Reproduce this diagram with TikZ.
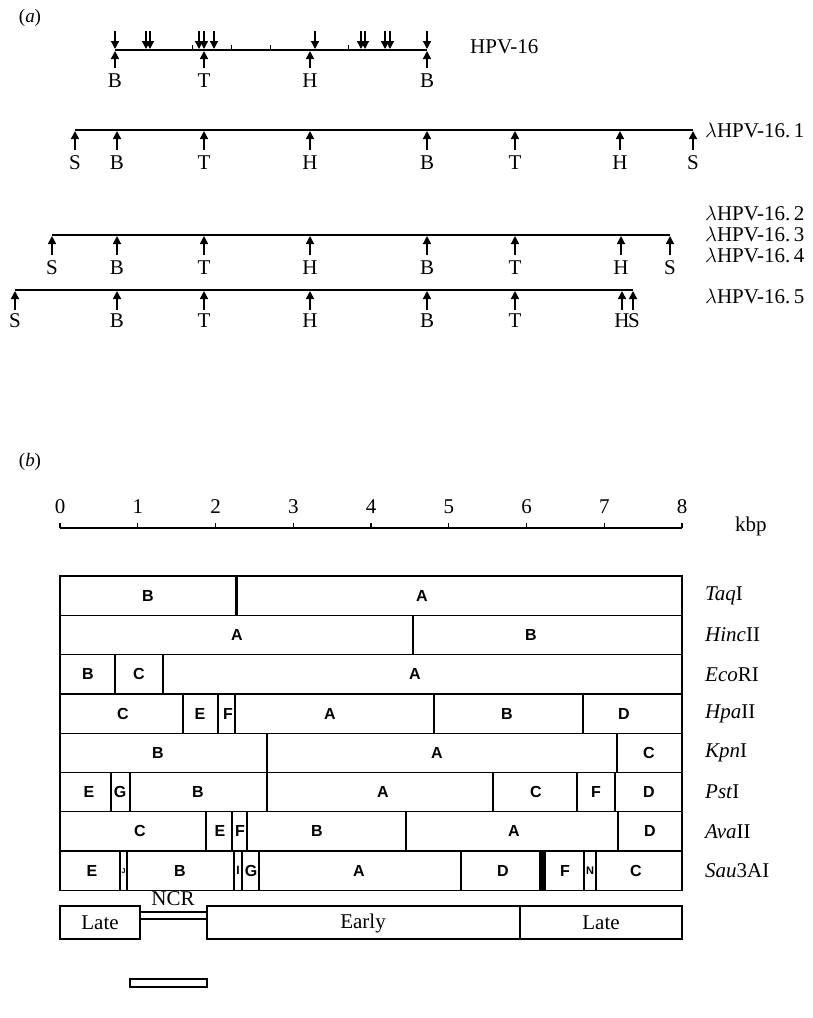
\documentclass[tikz,border=0pt]{standalone}
\usepackage{fontspec}
\setmainfont{Liberation Serif}
\newfontfamily\boxfont{Liberation Sans}
\usetikzlibrary{arrows.meta}
\begin{document}
\begin{tikzpicture}[x=1pt,y=-1pt,
 every node/.style={inner sep=0pt},
 lab/.style={font=\fontsize{21}{21}\selectfont},
 upar/.style={-{Triangle[length=8pt,width=8pt]}, line width=1.6pt},
 dnar/.style={-{Triangle[length=8pt,width=8pt]}, line width=1.4pt},
 dna/.style={line width=2pt},
 frag/.style={draw, line width=1.3pt},
 fl/.style={font=\boxfont\bfseries\fontsize{16}{16}\selectfont},
 enz/.style={anchor=west, font=\fontsize{21}{21}\selectfont},
]
\useasboundingbox (0,0) rectangle (813,1018);
\fill[white] (0,0) rectangle (813,1018);

% ---------- (a) ----------
\node[lab, font=\itshape\fontsize{19}{19}\selectfont] (pa) at (30,18) {\textup{(}a\textup{)}};

% HPV-16 genome
\coordinate (g0) at (115,50); \coordinate (g1) at (427,50);
\draw[dna] (g0) -- (g1);
\foreach \x [count=\i] in {115,146,150,199,204,214,315,361,365,385,390,427} {
  \coordinate (dt\i) at (\x,31); \coordinate (dh\i) at (\x,49);
  \draw[dnar] (dt\i) -- (dh\i);
}
\foreach \x [count=\i] in {192,231,270,348} {
  \coordinate (tk\i) at (\x,50); \coordinate (tu\i) at (\x,45);
  \draw[line width=1pt] (tk\i) -- (tu\i);
}
\foreach \x/\l [count=\i] in {115/B,204/T,310/H,427/B} {
  \coordinate (ut\i) at (\x,68); \coordinate (uh\i) at (\x,51);
  \draw[upar] (ut\i) -- (uh\i);
  \node[lab] (gl\i) at (\x,81) {\l};
}
\node[lab, anchor=west] (hpv) at (470,47) {HPV-16};

% lambda HPV-16.1
\coordinate (r1a) at (75,130); \coordinate (r1b) at (693,130);
\draw[dna] (r1a) -- (r1b);
\foreach \x/\l [count=\i] in {75/S,117/B,204/T,310/H,427/B,515/T,620/H,693/S} {
  \coordinate (p1t\i) at (\x,150); \coordinate (p1h\i) at (\x,131);
  \draw[upar] (p1t\i) -- (p1h\i);
  \node[lab] (l1\i) at (\x,163) {\l};
}
\node[enz] (n1) at (705,130) {$\lambda$HPV-16.\,1};

% lambda HPV-16.2-4
\coordinate (r2a) at (52,235); \coordinate (r2b) at (670,235);
\draw[dna] (r2a) -- (r2b);
\foreach \x/\l [count=\i] in {52/S,117/B,204/T,310/H,427/B,515/T,621/H,670/S} {
  \coordinate (p2t\i) at (\x,255); \coordinate (p2h\i) at (\x,236);
  \draw[upar] (p2t\i) -- (p2h\i);
  \node[lab] (l2\i) at (\x,268) {\l};
}
\node[enz] (n2) at (705,213) {$\lambda$HPV-16.\,2};
\node[enz] (n3) at (705,234) {$\lambda$HPV-16.\,3};
\node[enz] (n4) at (705,255) {$\lambda$HPV-16.\,4};

% lambda HPV-16.5
\coordinate (r3a) at (15,290); \coordinate (r3b) at (633,290);
\draw[dna] (r3a) -- (r3b);
\foreach \x/\l [count=\i] in {15/S,117/B,204/T,310/H,427/B,515/T,622/H,633/S} {
  \coordinate (p3t\i) at (\x,310); \coordinate (p3h\i) at (\x,291);
  \draw[upar] (p3t\i) -- (p3h\i);
}
\foreach \x/\l [count=\i] in {15/S,117/B,204/T,310/H,427/B,515/T,622/H,634/S} {
  \node[lab] (l3\i) at (\x,321) {\l};
}
\node[enz] (n5) at (705,296) {$\lambda$HPV-16.\,5};

% ---------- (b) ----------
\node[lab, font=\itshape\fontsize{19}{19}\selectfont] (pb) at (30,462) {\textup{(}b\textup{)}};

% scale
\coordinate (s0) at (60,528); \coordinate (s8) at (682,528);
\draw[line width=1.4pt] (s0) -- (s8);
\foreach \k in {0,...,8} {
  \coordinate (sk\k) at ({60+77.75*\k},528);
  \draw[line width=1.2pt] (sk\k) -- ++(0,-5);
  \node[lab] (sn\k) at ({60+77.75*\k},507) {\k};
}
\node[lab, anchor=west] (kbp) at (735,526) {kbp};

% restriction map rows
\def\rowh{39.3}
\newcommand{\maprow}[3]{%
  \pgfmathsetmacro{\yt}{576+\rowh*#1}
  \pgfmathsetmacro{\yb}{\yt+\rowh}
  \pgfmathsetmacro{\ym}{\yt+\rowh/2}
  \foreach \a/\b/\lx/\l [count=\j] in {#2} {
    \draw[frag] (\a,\yt) rectangle (\b,\yb);
    \node[fl] (f#1-\j) at (\lx,\ym) {\l};
  }
  \node[enz] (e#1) at (705,\ym) {#3};
}
\maprow{0}{60/236/148/B,236/682/422/A}{\textit{Taq}I}
\maprow{1}{60/413/237/A,413/682/531/B}{\textit{Hinc}II}
\maprow{2}{60/115/88/B,115/163/139/C,163/682/415/A}{\textit{Eco}RI}
\maprow{3}{60/183/123/C,183/218/200/E,218/235/228/F,235/434/330/A,434/583/507/B,583/682/624/D}{\textit{Hpa}II}
\maprow{4}{60/267/158/B,267/617/437/A,617/682/649/C}{\textit{Kpn}I}
\maprow{5}{60/111/89/E,111/130/120/G,130/267/198/B,267/493/383/A,493/577/536/C,577/615/596/F,615/682/649/D}{\textit{Pst}I}
\maprow{6}{60/206/140/C,206/232/220/E,232/247/240/F,247/406/317/B,406/618/514/A,618/682/650/D}{\textit{Ava}II}
\maprow{7}{60/120/92/E,120/127/123.5/{\fontsize{7}{7}\selectfont J},127/234/180/B,234/242/238/{\fontsize{12}{12}\selectfont I},242/259/251/G,259/461/359/A,461/540/503/D,540/545/542.5/{},545/584/565/F,584/596/590/{\fontsize{11}{11}\selectfont N},596/682/636/C}{\textit{Sau}3AI}
\draw[line width=3pt] (236,576) -- (236,615.3);
\fill (540,{576+\rowh*7}) rectangle (545,{576+\rowh*8});

% genome organisation
\draw[frag] (60,906) rectangle (140,939);
\node[lab] (late1) at (100,923) {Late};
\draw[frag] (140,912) rectangle (207,919);
\node[lab] (ncr) at (173,899) {NCR};
\draw[frag] (207,906) rectangle (520,939);
\node[lab] (early) at (363,923) {Early};
\draw[frag] (520,906) rectangle (682,939);
\node[lab] (late2) at (601,923) {Late};

% size bar
\draw[frag] (130,979) rectangle (207,987);
\end{tikzpicture}
\end{document}
